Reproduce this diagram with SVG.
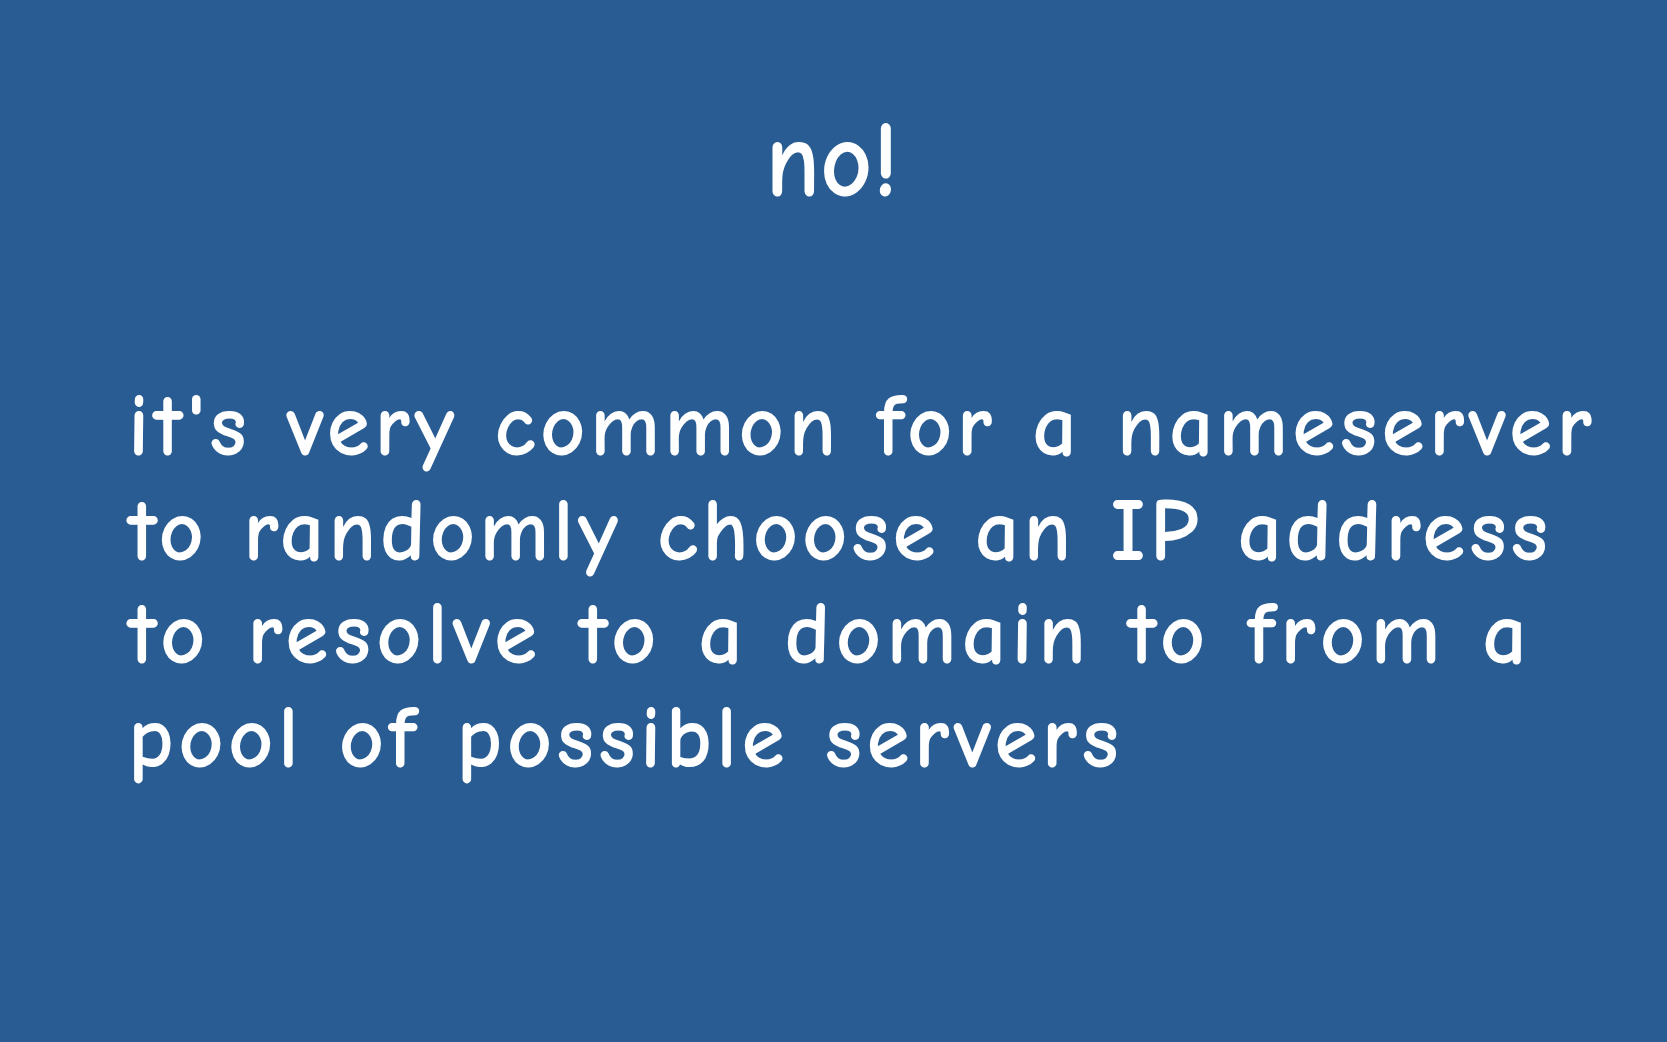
<svg xmlns="http://www.w3.org/2000/svg" width="1667" height="1042" viewBox="0 0 1667 1042">
<style>
.t{fill:#ffffff;font-family:"Comic Sans MS","Comic Neue","Liberation Sans",sans-serif;font-size:88px;font-weight:bold;}
</style>
<rect x="0" y="0" width="1667" height="1042" fill="#295c92"/>
<g id="title">
<text class="t" x="832" y="196" text-anchor="middle" style="font-size:110px" textLength="133" lengthAdjust="spacingAndGlyphs">no!</text>
</g>
<g id="body">
<text class="t" x="128" y="455" textLength="1464" lengthAdjust="spacing">it's very common for a nameserver</text>
<text class="t" x="128" y="560" textLength="1420" lengthAdjust="spacing">to randomly choose an IP address</text>
<text class="t" x="128" y="663" textLength="1399" lengthAdjust="spacing">to resolve to a domain to from a</text>
<text class="t" x="128" y="767" textLength="991" lengthAdjust="spacing">pool of possible servers</text>
</g>
</svg>
